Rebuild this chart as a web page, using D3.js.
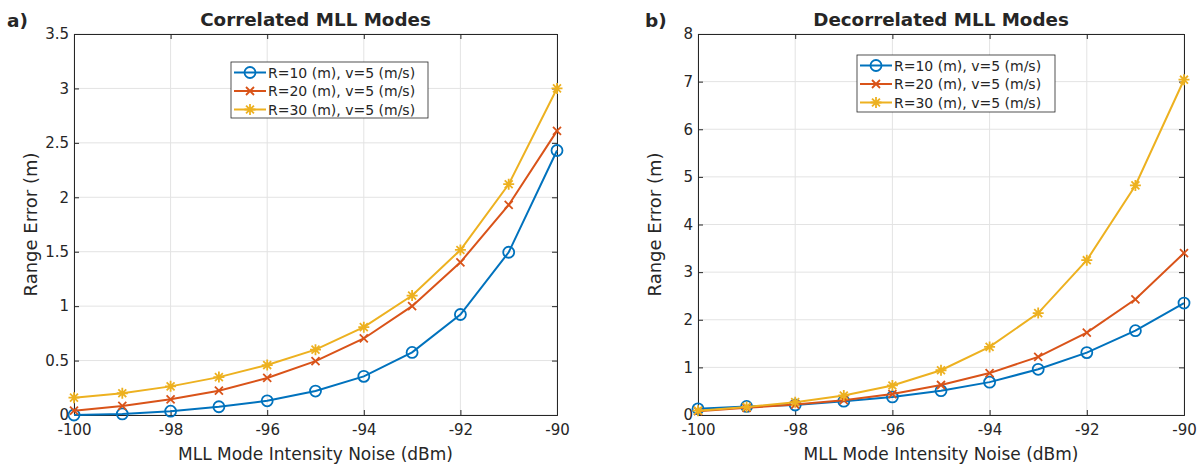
<!DOCTYPE html>
<html><head><meta charset="utf-8">
<script src="https://cdn.jsdelivr.net/npm/d3@7"></script>
<style>body{margin:0;background:#fff}svg{display:block}text{font-family:"DejaVu Sans",sans-serif;fill:#262626}</style>
</head><body><svg id="c" width="1199" height="465"></svg>
<script>
const xValues = [-100,-99,-98,-97,-96,-95,-94,-93,-92,-91,-90];
const seriesNames = ["R=10 (m), v=5 (m/s)","R=20 (m), v=5 (m/s)","R=30 (m), v=5 (m/s)"];
const corrR10 = [0.0,0.01,0.035,0.076,0.13,0.22,0.355,0.575,0.923,1.495,2.43];
const corrR20 = [0.04,0.083,0.144,0.223,0.34,0.495,0.703,1.0,1.403,1.93,2.61];
const corrR30 = [0.159,0.2,0.263,0.348,0.459,0.60,0.807,1.097,1.516,2.12,3.0];
const decR10 = [0.13,0.18,0.21,0.29,0.38,0.51,0.69,0.96,1.31,1.77,2.35];
const decR20 = [0.08,0.15,0.22,0.31,0.44,0.63,0.88,1.22,1.73,2.43,3.40];
const decR30 = [0.09,0.17,0.27,0.41,0.62,0.94,1.43,2.14,3.25,4.82,7.04];
const xTicks = [-100,-98,-96,-94,-92,-90];
const corrYTicks = [0,0.5,1,1.5,2,2.5,3,3.5];
const decYTicks = [0,1,2,3,4,5,6,7,8];
const colors = ["#0072BD","#D95319","#EDB120"];
const markers = ["circle","x","star"];

const svg = d3.select("#c");

function marker(g, type, x, y, color){
  if(type==="circle"){
    g.append("circle").attr("cx",x).attr("cy",y).attr("r",5.5).attr("fill","none").attr("stroke",color).attr("stroke-width",1.8);
  } else if(type==="x"){
    const s=4;
    g.append("path").attr("d",`M${x-s},${y-s}L${x+s},${y+s}M${x-s},${y+s}L${x+s},${y-s}`).attr("stroke",color).attr("stroke-width",1.8).attr("fill","none");
  } else {
    const s=5.5, d=s*0.72;
    g.append("path").attr("d",`M${x-s},${y}L${x+s},${y}M${x},${y-s}L${x},${y+s}M${x-d},${y-d}L${x+d},${y+d}M${x-d},${y+d}L${x+d},${y-d}`).attr("stroke",color).attr("stroke-width",1.8).attr("fill","none");
  }
}

function panel(o){
  const {x0,x1,y0,y1,ymax,yTicks,data,title,letter,letterX,legend} = o;
  const x = d3.scaleLinear().domain([-100,-90]).range([x0,x1]);
  const y = d3.scaleLinear().domain([0,ymax]).range([y1,y0]);
  const g = svg.append("g");
  // grid
  g.append("g").selectAll("line").data(xTicks).join("line")
    .attr("x1",d=>x(d)).attr("x2",d=>x(d)).attr("y1",y0).attr("y2",y1).attr("stroke","#e3e3e3").attr("stroke-width",1);
  g.append("g").selectAll("line").data(yTicks).join("line")
    .attr("y1",d=>y(d)).attr("y2",d=>y(d)).attr("x1",x0).attr("x2",x1).attr("stroke","#e3e3e3").attr("stroke-width",1);
  // axes
  const ax = g.append("g").attr("transform",`translate(0,${y1})`).call(d3.axisBottom(x).tickValues(xTicks).tickSize(-5).tickPadding(9).tickFormat(d=>d));
  const axT = g.append("g").attr("transform",`translate(0,${y0})`).call(d3.axisTop(x).tickValues(xTicks).tickSize(-5).tickFormat(""));
  const ay = g.append("g").attr("transform",`translate(${x0},0)`).call(d3.axisLeft(y).tickValues(yTicks).tickSize(-5).tickPadding(5).tickFormat(d=>d));
  const ayR = g.append("g").attr("transform",`translate(${x1},0)`).call(d3.axisRight(y).tickValues(yTicks).tickSize(-5).tickFormat(""));
  [ax,axT,ay,ayR].forEach(a=>{
    a.selectAll("path.domain").attr("stroke","#262626").attr("stroke-width",1);
    a.selectAll(".tick line").attr("stroke","#262626");
    a.selectAll("text").attr("font-size",15).attr("font-family","DejaVu Sans").attr("fill","#262626");
  });
  // lines
  const line = d3.line().x((d,i)=>x(xValues[i])).y(d=>y(d));
  data.forEach((s,k)=>{
    g.append("path").datum(s).attr("d",line).attr("fill","none").attr("stroke",colors[k]).attr("stroke-width",2);
    const mg = g.append("g");
    s.forEach((v,i)=>marker(mg,markers[k],x(xValues[i]),y(v),colors[k]));
  });
  // title
  const cx=(x0+x1)/2;
  g.append("text").attr("x",cx).attr("y",26).attr("text-anchor","middle").attr("font-size",18.3).attr("font-weight","bold").attr("fill","#000").text(title);
  g.append("text").attr("x",letterX).attr("y",27).attr("font-size",18.5).attr("font-weight","bold").attr("fill","#000").text(letter);
  g.append("text").attr("x",cx).attr("y",460).attr("text-anchor","middle").attr("font-size",17).text("MLL Mode Intensity Noise (dBm)");
  g.append("text").attr("transform",`translate(${x0-37},${(y0+y1)/2}) rotate(-90)`).attr("text-anchor","middle").attr("font-size",18).text("Range Error (m)");
  // legend
  const lg = g.append("g");
  lg.append("rect").attr("x",legend.x).attr("y",legend.y).attr("width",legend.w).attr("height",legend.h).attr("fill","#fff").attr("stroke","#262626").attr("stroke-width",0.8);
  seriesNames.forEach((n,k)=>{
    const ly = legend.y+10.5+k*18.5;
    lg.append("line").attr("x1",legend.x+3).attr("x2",legend.x+35).attr("y1",ly).attr("y2",ly).attr("stroke",colors[k]).attr("stroke-width",2);
    marker(lg,markers[k],legend.x+19,ly,colors[k]);
    lg.append("text").attr("x",legend.x+37).attr("y",ly+5).attr("font-size",14).text(n);
  });
}

panel({x0:74,x1:557,y0:34,y1:415,ymax:3.5,yTicks:corrYTicks,data:[corrR10,corrR20,corrR30],
  title:"Correlated MLL Modes",letter:"a)",letterX:7,legend:{x:231,y:62,w:197,h:56}});
panel({x0:698,x1:1184,y0:34,y1:415,ymax:8,yTicks:decYTicks,data:[decR10,decR20,decR30],
  title:"Decorrelated MLL Modes",letter:"b)",letterX:645,legend:{x:857,y:55,w:198,h:57}});
</script></body></html>
